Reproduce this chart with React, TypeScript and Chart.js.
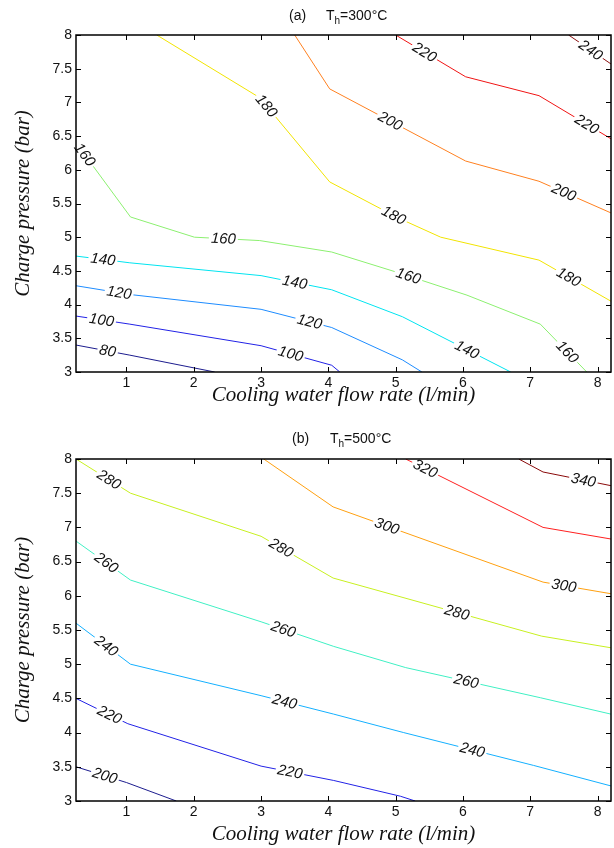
import React, { useEffect, useRef } from "react";
import { Chart, registerables } from "chart.js";
Chart.register(...registerables);

const xTicks = [1, 2, 3, 4, 5, 6, 7, 8];
const yTicks = [3, 3.5, 4, 4.5, 5, 5.5, 6, 6.5, 7, 7.5, 8];
const xMin = 0.25;
const xMax = 8.2;
const yMin = 3;
const yMax = 8;

// ---------- Panel (a) Th = 300°C ----------
const levelsA = [80, 100, 120, 140, 160, 180, 200, 220, 240];
const colorsA = ["#1c1c8e", "#2222e6", "#1e8cff", "#00e4f0", "#8cf070", "#f2e400", "#ff8020", "#f01414", "#8a1010"];
const a80X = [0.25, 1.05, 2.31];
const a80Y = [3.4, 3.25, 3.0];
const a100X = [0.25, 1.05, 3.0, 4.05, 4.17];
const a100Y = [3.83, 3.71, 3.39, 3.1, 3.0];
const a120X = [0.25, 1.05, 3.0, 4.05, 5.1, 5.39];
const a120Y = [4.28, 4.15, 3.93, 3.66, 3.18, 3.0];
const a140X = [0.25, 1.05, 3.0, 4.05, 5.1, 6.71];
const a140Y = [4.72, 4.62, 4.43, 4.22, 3.82, 3.0];
const a160X = [0.25, 1.06, 2.01, 2.98, 4.05, 5.05, 6.06, 7.15, 7.84];
const a160Y = [6.4, 5.3, 5.0, 4.95, 4.78, 4.47, 4.14, 3.71, 3.0];
const a180X = [1.45, 2.98, 4.02, 5.05, 5.67, 7.13, 8.2];
const a180Y = [8, 7.07, 5.82, 5.28, 5.0, 4.66, 4.05];
const a200X = [3.5, 4.02, 6.04, 7.13, 8.2];
const a200Y = [8, 7.2, 6.13, 5.83, 5.36];
const a220X = [5.0, 6.04, 7.13, 8.2];
const a220Y = [8, 7.38, 7.1, 6.46];
const a240X = [7.57, 8.2];
const a240Y = [8, 7.57];
const linesAX = [a80X, a100X, a120X, a140X, a160X, a180X, a200X, a220X, a240X];
const linesAY = [a80Y, a100Y, a120Y, a140Y, a160Y, a180Y, a200Y, a220Y, a240Y];
const labelsAX = [[0.72], [0.63, 3.44], [0.89, 3.72], [0.65, 3.5, 6.06], [0.38, 2.44, 5.19, 7.55], [3.08, 4.97, 7.57], [4.92, 7.5], [5.43, 7.84], [7.9]];

// ---------- Panel (b) Th = 500°C ----------
const levelsB = [200, 220, 240, 260, 280, 300, 320, 340];
const colorsB = ["#1c1c8e", "#2222e6", "#14b0ff", "#40f0c4", "#c8f020", "#ffa010", "#ff2020", "#8a0a0a"];
const b200X = [0.25, 1.0, 1.74];
const b200Y = [3.5, 3.27, 3.0];
const b220X = [0.25, 1.02, 3.0, 4.08, 5.07, 5.29];
const b220Y = [4.5, 4.13, 3.51, 3.3, 3.07, 3.0];
const b240X = [0.25, 1.06, 3.0, 4.08, 5.12, 7.05, 8.2];
const b240Y = [5.6, 5.0, 4.54, 4.27, 4.0, 3.52, 3.22];
const b260X = [0.25, 1.06, 3.0, 4.08, 5.15, 7.15, 8.2];
const b260Y = [6.8, 6.23, 5.62, 5.26, 4.95, 4.51, 4.27];
const b280X = [0.25, 1.06, 3.0, 4.07, 7.17, 8.2];
const b280Y = [8, 7.5, 6.87, 6.26, 5.41, 5.24];
const b300X = [3.04, 4.07, 7.19, 8.2];
const b300Y = [8, 7.3, 6.2, 6.03];
const b320X = [5.15, 7.19, 8.2];
const b320Y = [8, 7.0, 6.83];
const b340X = [6.83, 7.19, 8.2];
const b340Y = [8, 7.81, 7.61];
const linesBX = [b200X, b220X, b240X, b260X, b280X, b300X, b320X, b340X];
const linesBY = [b200Y, b220Y, b240Y, b260Y, b280Y, b300Y, b320Y, b340Y];
const labelsBX = [[0.68], [0.75, 3.43], [0.7, 3.35, 6.14], [0.7, 3.33, 6.05], [0.74, 3.3, 5.91], [4.87, 7.5], [5.44], [7.79]];

const SANS = '"Liberation Sans", Arial, Helvetica, sans-serif';
const SERIF = '"Liberation Serif", "Times New Roman", serif';

const decorPlugin = {
  id: "contourDecor",
  afterDatasetsDraw(chart: any) {
    const { ctx, chartArea: ca, scales } = chart;
    const xs = scales.x;
    const ys = scales.y;
    ctx.save();
    // contour labels
    ctx.font = "italic 15px " + SANS;
    ctx.textAlign = "center";
    ctx.textBaseline = "middle";
    chart.data.datasets.forEach((ds: any) => {
      const pts = ds.data as { x: number; y: number }[];
      (ds.labelX || []).forEach((lx: number) => {
        for (let k = 0; k < pts.length - 1; k++) {
          const p0 = pts[k];
          const p1 = pts[k + 1];
          if (lx >= p0.x && lx <= p1.x) {
            const t = (lx - p0.x) / (p1.x - p0.x);
            const ly = p0.y + t * (p1.y - p0.y);
            const px = xs.getPixelForValue(lx);
            const py = ys.getPixelForValue(ly);
            const ang = Math.atan2(
              ys.getPixelForValue(p1.y) - ys.getPixelForValue(p0.y),
              xs.getPixelForValue(p1.x) - xs.getPixelForValue(p0.x)
            );
            const txt = String(ds.level);
            const w = ctx.measureText(txt).width;
            ctx.save();
            ctx.translate(px, py);
            ctx.rotate(ang);
            ctx.fillStyle = "#ffffff";
            ctx.fillRect(-w / 2 - 2, -6, w + 4, 12);
            ctx.fillStyle = "#111111";
            ctx.fillText(txt, 0, 0.5);
            ctx.restore();
            break;
          }
        }
      });
    });
    // box
    ctx.strokeStyle = "#000";
    ctx.lineWidth = 1.5;
    ctx.strokeRect(ca.left, ca.top, ca.right - ca.left, ca.bottom - ca.top);
    // inward ticks
    ctx.lineWidth = 1;
    ctx.beginPath();
    xTicks.forEach((v) => {
      const px = Math.round(xs.getPixelForValue(v)) + 0.5;
      ctx.moveTo(px, ca.bottom);
      ctx.lineTo(px, ca.bottom - 5);
      ctx.moveTo(px, ca.top);
      ctx.lineTo(px, ca.top + 5);
    });
    yTicks.forEach((v) => {
      const py = Math.round(ys.getPixelForValue(v)) + 0.5;
      ctx.moveTo(ca.left, py);
      ctx.lineTo(ca.left + 5, py);
      ctx.moveTo(ca.right, py);
      ctx.lineTo(ca.right - 5, py);
    });
    ctx.stroke();
    ctx.restore();
  },
  afterDraw(chart: any, _args: any, opts: any) {
    const { ctx } = chart;
    ctx.save();
    ctx.fillStyle = "#111";
    ctx.textBaseline = "middle";
    ctx.textAlign = "left";
    ctx.font = "14px " + SANS;
    ctx.fillText(opts.tag, opts.tagX, opts.cy);
    let x = opts.tX;
    ctx.fillText("T", x, opts.cy);
    x += ctx.measureText("T").width;
    ctx.font = "10px " + SANS;
    ctx.fillText("h", x, opts.cy + 5);
    x += ctx.measureText("h").width;
    ctx.font = "14px " + SANS;
    ctx.fillText(opts.rest, x, opts.cy);
    ctx.restore();
  },
};

function makeConfig(
  levels: number[],
  colors: string[],
  lx: number[][],
  ly: number[][],
  labs: number[][],
  padTop: number,
  xAxisH: number,
  xTitlePadBottom: number,
  title: { tag: string; tagX: number; tX: number; rest: string; cy: number }
): any {
  const datasets = levels.map((lv, i) => ({
    label: String(lv),
    level: lv,
    labelX: labs[i],
    data: lx[i].map((xv, j) => ({ x: xv, y: ly[i][j] })),
    borderColor: colors[i],
    borderWidth: 1,
    pointRadius: 0,
    fill: false,
    tension: 0,
  }));
  return {
    type: "line",
    data: { datasets },
    plugins: [decorPlugin],
    options: {
      animation: false,
      responsive: false,
      parsing: false,
      layout: { padding: { top: padTop, right: 3, left: 0, bottom: 0 } },
      plugins: {
        legend: { display: false },
        tooltip: { enabled: false },
        title: { display: false },
        contourDecor: title,
      },
      scales: {
        x: {
          type: "linear",
          min: xMin,
          max: xMax,
          grid: { display: false, drawTicks: false },
          border: { display: false },
          afterBuildTicks: (s: any) => {
            s.ticks = xTicks.map((v) => ({ value: v }));
          },
          afterFit: (s: any) => {
            s.height = xAxisH;
          },
          ticks: {
            autoSkip: false,
            maxRotation: 0,
            padding: 3,
            color: "#111",
            font: { family: SANS, size: 14 },
            callback: (v: any) => String(v),
          },
          title: {
            display: true,
            text: "Cooling water flow rate (l/min)",
            color: "#111",
            font: { family: SERIF, size: 21, style: "italic" },
            padding: { top: 0, bottom: xTitlePadBottom },
          },
        },
        y: {
          type: "linear",
          min: yMin,
          max: yMax,
          grid: { display: false, drawTicks: false },
          border: { display: false },
          afterBuildTicks: (s: any) => {
            s.ticks = yTicks.map((v) => ({ value: v }));
          },
          afterFit: (s: any) => {
            s.width = 76;
          },
          ticks: {
            autoSkip: false,
            padding: 4,
            color: "#111",
            font: { family: SANS, size: 14 },
            callback: (v: any) => String(v),
          },
          title: {
            display: true,
            text: "Charge pressure (bar)",
            color: "#111",
            font: { family: SERIF, size: 21, style: "italic" },
            padding: { top: 11, bottom: 0 },
          },
        },
      },
    },
  };
}

export default function App() {
  const refA = useRef<HTMLCanvasElement | null>(null);
  const refB = useRef<HTMLCanvasElement | null>(null);

  useEffect(() => {
    document.body.style.margin = "0";
    const cA = new Chart(
      refA.current as HTMLCanvasElement,
      makeConfig(levelsA, colorsA, linesAX, linesAY, labelsAX, 35, 48, 12, {
        tag: "(a)",
        tagX: 289,
        tX: 326,
        rest: "=300°C",
        cy: 16,
      })
    );
    const cB = new Chart(
      refB.current as HTMLCanvasElement,
      makeConfig(levelsB, colorsB, linesBX, linesBY, labelsBX, 39, 47, 1, {
        tag: "(b)",
        tagX: 292,
        tX: 330,
        rest: "=500°C",
        cy: 19,
      })
    );
    return () => {
      cA.destroy();
      cB.destroy();
    };
  }, []);

  return (
    <div style={{ width: 614, background: "#fff" }}>
      <canvas ref={refA} width={614} height={420} style={{ display: "block" }} />
      <canvas ref={refB} width={614} height={428} style={{ display: "block" }} />
    </div>
  );
}
